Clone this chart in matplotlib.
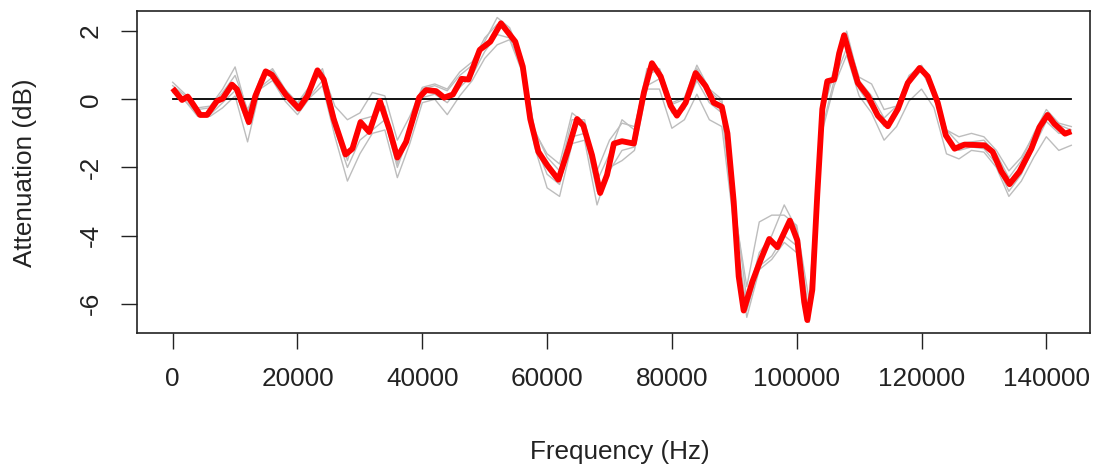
import matplotlib
matplotlib.use("Agg")
import matplotlib.pyplot as plt

plt.rcParams['font.family'] = ['Liberation Sans', 'DejaVu Sans']

# mean attenuation curve (red)
freq_mean = [0, 1500, 2400, 3100, 4400, 5500, 7100, 8000, 9500, 10300,
             12200, 13250, 14900, 15900, 18100, 20200, 21600, 23200, 24200, 25800,
             27700, 28800, 30100, 31500, 33200, 34700, 36000, 37400, 39500, 40600,
             42200, 43500, 44900, 46300, 47400, 49200, 50900, 52600, 54900, 56100,
             57300, 58600, 60000, 61800, 63400, 64800, 65800, 67200, 68500, 69600,
             70700, 72000, 73900, 75500, 76800, 78200, 79800, 80800, 82200, 83800,
             85400, 86700, 88000, 88900, 89900, 90700, 91500, 92900, 94200, 95600,
             96900, 98900, 100100, 101200, 101700, 102500, 103300, 104100, 104900, 106000,
             106800, 107600, 108700, 109800, 111400, 113000, 114600, 116200, 117800, 119700,
             121000, 122600, 123900, 125300, 126900, 130100, 131400, 132800, 134100, 135700,
             137600, 138900, 140200, 141300, 143000, 144000]
atten_mean = [0.32, -0.02, 0.08, -0.10, -0.46, -0.46, -0.05, 0.02, 0.43, 0.29,
              -0.67, 0.10, 0.82, 0.72, 0.14, -0.27, 0.10, 0.85, 0.58, -0.58,
              -1.62, -1.45, -0.67, -0.96, -0.05, -0.87, -1.71, -1.25, 0.05, 0.27,
              0.24, 0.05, 0.14, 0.60, 0.58, 1.45, 1.69, 2.23, 1.69, 0.96,
              -0.58, -1.54, -1.93, -2.36, -1.45, -0.58, -0.77, -1.64, -2.75, -2.22,
              -1.30, -1.23, -1.30, 0.19, 1.06, 0.67, -0.19, -0.48, -0.10, 0.77,
              0.39, -0.10, -0.22, -1.00, -3.00, -5.20, -6.20, -5.35, -4.72, -4.10,
              -4.34, -3.56, -4.14, -5.95, -6.48, -5.59, -2.79, -0.29, 0.53, 0.58,
              1.35, 1.88, 1.16, 0.48, 0.10, -0.48, -0.79, -0.29, 0.48, 0.92,
              0.67, -0.10, -1.06, -1.45, -1.33, -1.35, -1.54, -2.12, -2.49, -2.12,
              -1.45, -0.82, -0.46, -0.72, -1.01, -0.94]

# individual runs (grey)
freq_runs = list(range(0, 144001, 2000))
run1 = [0.50, 0.15, -0.25, -0.20, 0.30, 0.95, -0.40, 0.60, 0.90, 0.30,
        -0.10, 0.40, 0.90, -0.50, -1.80, -0.60, -0.50, -0.20, -1.90, -0.80,
        0.30, 0.40, 0.25, 0.70, 1.00, 1.70, 2.40, 2.10, 1.20, -0.90,
        -1.70, -2.10, -0.60, -0.60, -2.40, -1.60, -0.60, -0.90, 0.90, 0.90,
        -0.10, 0.05, 1.00, 0.30, 0.00, -3.00, -5.90, -4.50, -4.00, -3.10,
        -3.80, -6.30, -0.40, 0.90, 2.00, 0.55, 0.10, -0.55, -0.20, 0.70,
        1.00, 0.35, -0.90, -1.30, -1.25, -1.20, -1.60, -2.30, -1.80, -1.00,
        -0.30, -0.70, -0.80]
run2 = [0.25, -0.05, -0.40, -0.45, -0.10, 0.25, -0.75, 0.35, 0.65, 0.05,
        -0.35, 0.10, 0.55, -0.90, -2.00, -1.20, -0.90, -0.60, -2.00, -1.00,
        0.05, 0.15, -0.10, 0.35, 0.70, 1.40, 1.90, 1.80, 0.90, -1.30,
        -2.20, -2.50, -1.10, -1.00, -2.70, -2.10, -1.50, -1.40, 0.40, 0.60,
        -0.40, -0.30, 0.55, -0.10, -0.40, -3.60, -6.20, -4.90, -4.60, -4.00,
        -4.30, -6.55, -0.90, 0.55, 1.50, 0.30, -0.25, -0.80, -0.45, 0.45,
        0.85, 0.10, -1.20, -1.50, -1.40, -1.45, -1.90, -2.70, -2.20, -1.40,
        -0.65, -1.00, -1.00]
run3 = [0.20, -0.05, -0.50, -0.50, -0.25, 0.10, -1.25, 0.30, 0.55, -0.05,
        -0.45, 0.05, 0.40, -1.10, -2.40, -1.60, -1.00, -0.90, -2.30, -1.30,
        -0.10, 0.00, -0.45, 0.10, 0.55, 1.20, 1.60, 1.75, 0.80, -1.40,
        -2.60, -2.85, -1.30, -1.20, -3.10, -2.00, -1.80, -1.50, 0.30, 0.30,
        -0.85, -0.60, 0.15, -0.60, -0.80, -3.80, -6.40, -5.00, -4.70, -4.20,
        -4.50, -6.40, -1.00, 0.40, 1.30, 0.10, -0.40, -1.20, -0.80, -0.05,
        0.30, -0.25, -1.60, -1.75, -1.50, -1.55, -2.00, -2.85, -2.40, -1.70,
        -1.10, -1.50, -1.35]
run4 = [0.40, 0.10, -0.30, -0.25, 0.20, 0.70, -0.30, 0.55, 0.85, 0.25,
        -0.15, 0.35, 0.80, -0.20, -0.60, -0.40, 0.20, 0.10, -1.20, -0.50,
        0.35, 0.45, 0.30, 0.80, 1.10, 1.80, 2.20, 2.00, 1.20, -0.95,
        -1.60, -1.90, -0.40, -0.70, -2.10, -1.20, -0.70, -0.80, 0.70, 0.90,
        -0.15, 0.00, 0.90, 0.25, -0.10, -3.20, -5.50, -3.60, -3.40, -3.40,
        -3.70, -5.90, -0.50, 0.80, 1.80, 0.65, 0.45, -0.30, -0.20, 0.65,
        0.95, 0.30, -0.90, -1.10, -1.00, -1.10, -1.50, -2.10, -1.70, -1.05,
        -0.40, -0.75, -0.90]

fig = plt.figure(figsize=(10.96, 4.66), dpi=100)
ax = fig.add_axes([137 / 1096, 1 - 332.7 / 466, (1090 - 137) / 1096, (332.7 - 10.7) / 466])

for run in [run1, run2, run3, run4]:
    ax.plot(freq_runs, run, color='#bdbdbd', lw=1.0, zorder=2,
            solid_joinstyle='round')
ax.plot([freq_runs[0], freq_runs[-1]], [0, 0], color='black', lw=1.3, zorder=3)
ax.plot(freq_mean, atten_mean, color='#ff0000', lw=4.2, zorder=4,
        solid_joinstyle='round', solid_capstyle='butt')

ax.set_xlim(-5720, 147000)
ax.set_ylim(-6.85, 2.60)
ax.set_xticks(range(0, 140001, 20000))
ax.set_yticks([-6, -4, -2, 0, 2])
ax.set_xticklabels([str(v) for v in range(0, 140001, 20000)])
ax.set_yticklabels(['-6', '-4', '-2', '0', '2'], rotation=90, va='center')
ax.tick_params(direction='out', length=11.5, width=1.0, labelsize=18.8, pad=13,
               colors='#222222')
for s in ax.spines.values():
    s.set_linewidth(1.2)
    s.set_color('#222222')

fig.text(620 / 1096, 1 - 452 / 466, 'Frequency (Hz)', ha='center', va='center',
         fontsize=18.8, color='#222222')
fig.text(25 / 1096, 1 - 173 / 466, 'Attenuation (dB)', ha='center', va='center',
         rotation=90, fontsize=18.8, color='#222222')

fig.savefig('out.png', dpi=100)
